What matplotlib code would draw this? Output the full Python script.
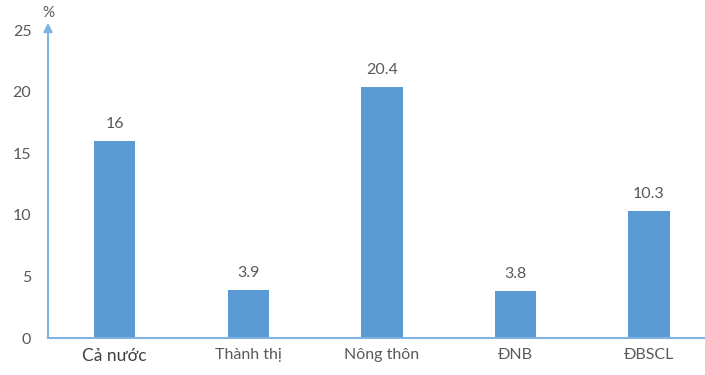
import matplotlib
matplotlib.use("Agg")
import matplotlib.pyplot as plt

categories = ["Cả nước", "Thành thị", "Nông thôn", "ĐNB", "ĐBSCL"]
values = [16, 3.9, 20.4, 3.8, 10.3]
value_labels = ["16", "3.9", "20.4", "3.8", "10.3"]
yticks = [0, 5, 10, 15, 20, 25]

plt.rcParams['font.family'] = ['Lato', 'DejaVu Sans']

fig = plt.figure(figsize=(7.05, 3.75), dpi=100)
ax = fig.add_axes([48/705, 37/375, 1 - 48/705, 308/375])

bar_color = "#5B9BD5"
axis_color = "#80B2E2"
text_color = "#595959"

x = list(range(len(categories)))
ax.bar(x, values, width=0.31, color=bar_color)
for xi, v, lab in zip(x, values, value_labels):
    ax.text(xi, v + 0.8, lab, ha="center", va="bottom", fontsize=11.5, color=text_color)

ax.set_xlim(-0.5, 4.42)
ax.set_ylim(0, 25)
ax.set_yticks(yticks)
ax.set_yticklabels([str(t) for t in yticks], fontsize=11.5, color=text_color)
ax.set_xticks(x)
ax.set_xticklabels(categories, fontsize=11.5, color=text_color)
ax.get_xticklabels()[0].set_fontsize(12.5)
ax.get_xticklabels()[0].set_color("#404040")
ax.tick_params(axis="both", length=0)
ax.tick_params(axis="y", pad=12)
ax.tick_params(axis="x", pad=7)

for s in ["top", "right", "left"]:
    ax.spines[s].set_visible(False)
ax.spines["bottom"].set_color(axis_color)
ax.spines["bottom"].set_linewidth(1.5)

ax.annotate("", xy=(-0.5, 25.6), xytext=(-0.5, 0), xycoords="data",
            arrowprops=dict(arrowstyle="-|>", color=axis_color, lw=1.5,
                            mutation_scale=13, shrinkA=0, shrinkB=0),
            annotation_clip=False)
ax.text(-0.5, 26.4, "%", ha="center", va="center", fontsize=11, color=text_color,
        clip_on=False)

fig.savefig("out.png", dpi=100)
